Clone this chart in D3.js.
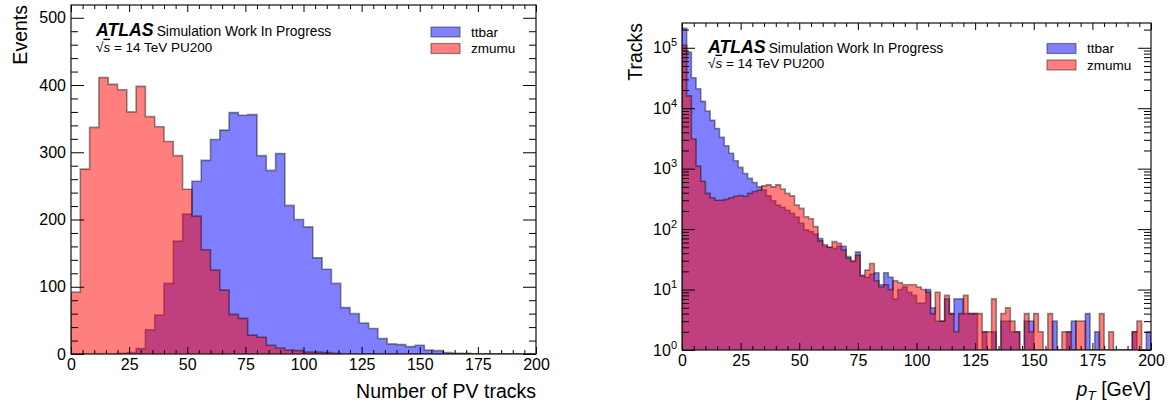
<!DOCTYPE html>
<html><head><meta charset="utf-8">
<script src="https://cdn.jsdelivr.net/npm/d3@7"></script>
<style>
body{margin:0;background:#fff;}
svg{display:block;font-family:"Liberation Sans",Arial,Helvetica,sans-serif;}
</style></head><body>
<svg id="chart" width="1172" height="405"></svg>
<script>
// ---------------- data ----------------
const seriesNames = ["ttbar", "zmumu"];
const seriesColors = ["#0000ff", "#ff0000"];

// Left panel: number of PV tracks, 50 bins of width 4 on [0,200]
const nPVBinWidth = 4;
const nPVTtbar = [0,0,0,0,0,1,2,8,36,58,105,168,208,257,288,319,333,359,355,356,
                  295,273,298,221,200,189,143,126,105,69,60,46,38,23,15,14,11,13,6,5,
                  2,1,1,0,0,0,0,0,0,0];
const nPVZmumu = [92,275,337,411,401,393,360,398,353,338,316,295,245,205,155,125,95,59,53,28,
                  25,13,9,6,5,3,3,2,1,0,0,0,0,0,0,0,0,0,0,0,
                  0,0,0,0,0,0,0,0,0,0];
const nPVYMax = 519;
const nPVYTicks = [0,100,200,300,400,500];

// Right panel: track pT, 100 bins of width 2 on [0,200]
const ptBinWidth = 2;
const ptTtbar = [210000,85000,32000,21000,13000,9000,6300,4600,3300,2400,
                 1800,1350,1050,830,690,590,500,445,355,295,
                 250,230,205,183,158,125,97,91,83,70,
                 52,50,48,52,52,35,29,42,17,16,
                 18,19,12,19,16,7,10,11,9,8,
                 6,6,10,5,3,3,7,4,7,7,
                 4,4,4,1,2,1,2,0,3,3,
                 2,2,0,3,3,1,0,0,1,3,
                 0,0,2,3,0,1,4,0,2,0,
                 0,0,0,0,0,0,2,0,0,2];
const ptZmumu = [110000,16000,3100,1100,620,390,330,300,300,310,
                 330,350,360,350,390,420,440,520,540,500,
                 540,460,390,355,250,220,160,148,110,64,
                 55,50,62,58,45,33,30,37,17,21,
                 27,14,11,12,10,14,13,12,12,12,
                 11,10,9,4,9,3,8,4,2,4,
                 8,4,4,4,2,2,7,0,4,5,
                 3,2,0,4,2,4,2,0,4,1,
                 0,2,2,1,3,3,0,0,0,4,
                 0,2,0,0,0,0,2,3,0,0];
const ptYMax = 2.57e5;
const ptYTickExps = [0,1,2,3,4,5];

const xMajorTicks = [0,25,50,75,100,125,150,175,200];
const xMinorTicks = [5,10,15,20,30,35,40,45,55,60,65,70,80,85,90,95,105,110,115,120,130,135,140,145,155,160,165,170,180,185,190,195];
const nPVYMinorTicks = [20,40,60,80,120,140,160,180,220,240,260,280,320,340,360,380,420,440,460,480];

// ---------------- drawing ----------------
const svg = d3.select("#chart");
const FONT_TICK = 16, FONT_TITLE = 19.5;

function drawHist(g, xs, ys, values, binW, fill, floor) {
  const pts = values.map((v, i) => [i * binW, v]);
  pts.push([values.length * binW, values[values.length - 1]]);
  const yv = v => ys(Math.max(v, floor));
  const area = d3.area().curve(d3.curveStepAfter)
    .x(d => xs(d[0])).y0(ys(floor)).y1(d => yv(d[1]));
  g.append("path").attr("d", area(pts)).attr("fill", fill).attr("fill-opacity", 0.5);
  const outline = [[0, floor], ...pts, [values.length * binW, floor]];
  const line = d3.line().curve(d3.curveStepAfter).x(d => xs(d[0])).y(d => yv(d[1]));
  g.append("path").attr("d", line(outline)).attr("fill", "none")
    .attr("stroke", "#000").attr("stroke-opacity", 0.42).attr("stroke-width", 1.6);
}

function axes(g, xs, ys, yMajor, yMinor, yFormat) {
  const [x0, x1] = xs.range();
  const [y0, y1] = ys.range(); // y0 bottom, y1 top
  const clean = sel => { sel.select(".domain").remove(); sel.selectAll("line").attr("stroke", "#000"); };
  // bottom
  g.append("g").attr("transform", `translate(0,${y0})`)
    .call(d3.axisBottom(xs).tickValues(xMajorTicks).tickSize(-7).tickPadding(5).tickFormat(d3.format("d")))
    .call(clean)
    .call(s => s.selectAll("text").attr("font-size", FONT_TICK).attr("fill", "#000").attr("font-family", null));
  g.append("g").attr("transform", `translate(0,${y0})`)
    .call(d3.axisBottom(xs).tickValues(xMinorTicks).tickSize(-4).tickFormat(""))
    .call(clean);
  // top
  g.append("g").attr("transform", `translate(0,${y1})`)
    .call(d3.axisTop(xs).tickValues(xMajorTicks).tickSize(-7).tickFormat(""))
    .call(clean);
  g.append("g").attr("transform", `translate(0,${y1})`)
    .call(d3.axisTop(xs).tickValues(xMinorTicks).tickSize(-4).tickFormat(""))
    .call(clean);
  // left
  g.append("g").attr("transform", `translate(${x0},0)`)
    .call(d3.axisLeft(ys).tickValues(yMajor).tickSize(-13).tickPadding(5).tickFormat(yFormat ? () => "" : d3.format("d")))
    .call(clean)
    .call(s => s.selectAll("text").attr("font-size", FONT_TICK).attr("fill", "#000").attr("font-family", null));
  g.append("g").attr("transform", `translate(${x0},0)`)
    .call(d3.axisLeft(ys).tickValues(yMinor).tickSize(-7).tickFormat(""))
    .call(clean);
  // right
  g.append("g").attr("transform", `translate(${x1},0)`)
    .call(d3.axisRight(ys).tickValues(yMajor).tickSize(-13).tickFormat(""))
    .call(clean);
  g.append("g").attr("transform", `translate(${x1},0)`)
    .call(d3.axisRight(ys).tickValues(yMinor).tickSize(-7).tickFormat(""))
    .call(clean);
  // frame
  g.append("rect").attr("x", x0).attr("y", y1).attr("width", x1 - x0).attr("height", y0 - y1)
    .attr("fill", "none").attr("stroke", "#111").attr("stroke-width", 1.2);
}

function atlasLabel(g, x, y, lineGap) {
  const t = g.append("text").attr("x", x).attr("y", y).attr("fill", "#000");
  t.append("tspan").text("ATLAS").attr("font-weight", "bold").attr("font-style", "italic").attr("font-size", 17.7);
  t.append("tspan").text("Simulation Work In Progress").attr("font-size", 13.8).attr("dx", 3);
  const t2 = g.append("text").attr("x", x).attr("y", y + lineGap).attr("fill", "#000").attr("font-size", 13.5);
  t2.append("tspan").text("\u221A");
  t2.append("tspan").text("s").attr("font-style", "italic").style("text-decoration", "overline");
  t2.append("tspan").text(" = 14 TeV PU200");
}

function legend(g, xRect, yCenters) {
  seriesNames.forEach((name, i) => {
    const yc = yCenters[i];
    g.append("rect").attr("x", xRect).attr("y", yc - 5).attr("width", 29).attr("height", 10)
      .attr("fill", seriesColors[i]).attr("fill-opacity", 0.5)
      .attr("stroke", "#000").attr("stroke-opacity", 0.42).attr("stroke-width", 1.2);
    g.append("text").attr("x", xRect + 40).attr("y", yc + 4.8).attr("font-size", 13.5)
      .attr("fill", "#000").text(name);
  });
}

// ---------- left panel ----------
{
  const g = svg.append("g");
  const xs = d3.scaleLinear().domain([0, 200]).range([71, 536]);
  const ys = d3.scaleLinear().domain([0, nPVYMax]).range([354, 5]);
  const clipId = "clipL";
  g.append("clipPath").attr("id", clipId).append("rect")
    .attr("x", 71).attr("y", 5).attr("width", 465).attr("height", 349);
  const hg = g.append("g").attr("clip-path", `url(#${clipId})`);
  drawHist(hg, xs, ys, nPVTtbar, nPVBinWidth, seriesColors[0], 0);
  drawHist(hg, xs, ys, nPVZmumu, nPVBinWidth, seriesColors[1], 0);
  axes(g, xs, ys, nPVYTicks, nPVYMinorTicks, null);
  atlasLabel(g, 96, 35.7, 16);
  legend(g, 431, [32, 48.5]);
  g.append("text").attr("transform", "translate(27,5) rotate(-90)").attr("text-anchor", "end")
    .attr("font-size", FONT_TITLE).attr("fill", "#000").text("Events");
  g.append("text").attr("x", 536).attr("y", 398).attr("text-anchor", "end")
    .attr("font-size", FONT_TITLE).attr("fill", "#000").text("Number of PV tracks");
}

// ---------- right panel ----------
{
  const g = svg.append("g");
  const xs = d3.scaleLinear().domain([0, 200]).range([682, 1151]);
  const ys = d3.scaleLog().domain([1, ptYMax]).range([350, 23]);
  const clipId = "clipR";
  g.append("clipPath").attr("id", clipId).append("rect")
    .attr("x", 682).attr("y", 23).attr("width", 469).attr("height", 327);
  const hg = g.append("g").attr("clip-path", `url(#${clipId})`);
  drawHist(hg, xs, ys, ptTtbar, ptBinWidth, seriesColors[0], 1);
  drawHist(hg, xs, ys, ptZmumu, ptBinWidth, seriesColors[1], 1);
  const yMajor = ptYTickExps.map(e => Math.pow(10, e));
  const yMinor = [];
  ptYTickExps.forEach(e => { for (let m = 2; m <= 9; m++) { const v = m * Math.pow(10, e); if (v <= ptYMax) yMinor.push(v); } });
  axes(g, xs, ys, yMajor, yMinor, true);
  ptYTickExps.forEach(e => {
    const t = g.append("text").attr("x", 677).attr("y", ys(Math.pow(10, e)) + 5.6)
      .attr("text-anchor", "end").attr("font-size", FONT_TICK).attr("fill", "#000");
    t.append("tspan").text("10");
    t.append("tspan").text(String(e)).attr("font-size", 11).attr("dy", -7);
  });
  atlasLabel(g, 708, 52.7, 15);
  legend(g, 1047, [48.5, 65]);
  g.append("text").attr("transform", "translate(642,23) rotate(-90)").attr("text-anchor", "end")
    .attr("font-size", FONT_TITLE).attr("fill", "#000").text("Tracks");
  const xt = g.append("text").attr("x", 1151).attr("y", 396).attr("text-anchor", "end")
    .attr("font-size", FONT_TITLE).attr("fill", "#000");
  xt.append("tspan").text("p").attr("font-style", "italic");
  xt.append("tspan").text("T").attr("font-style", "italic").attr("font-size", 13.5).attr("dy", 4);
  xt.append("tspan").text(" [GeV]").attr("dy", -4);
}
</script>
</body></html>
